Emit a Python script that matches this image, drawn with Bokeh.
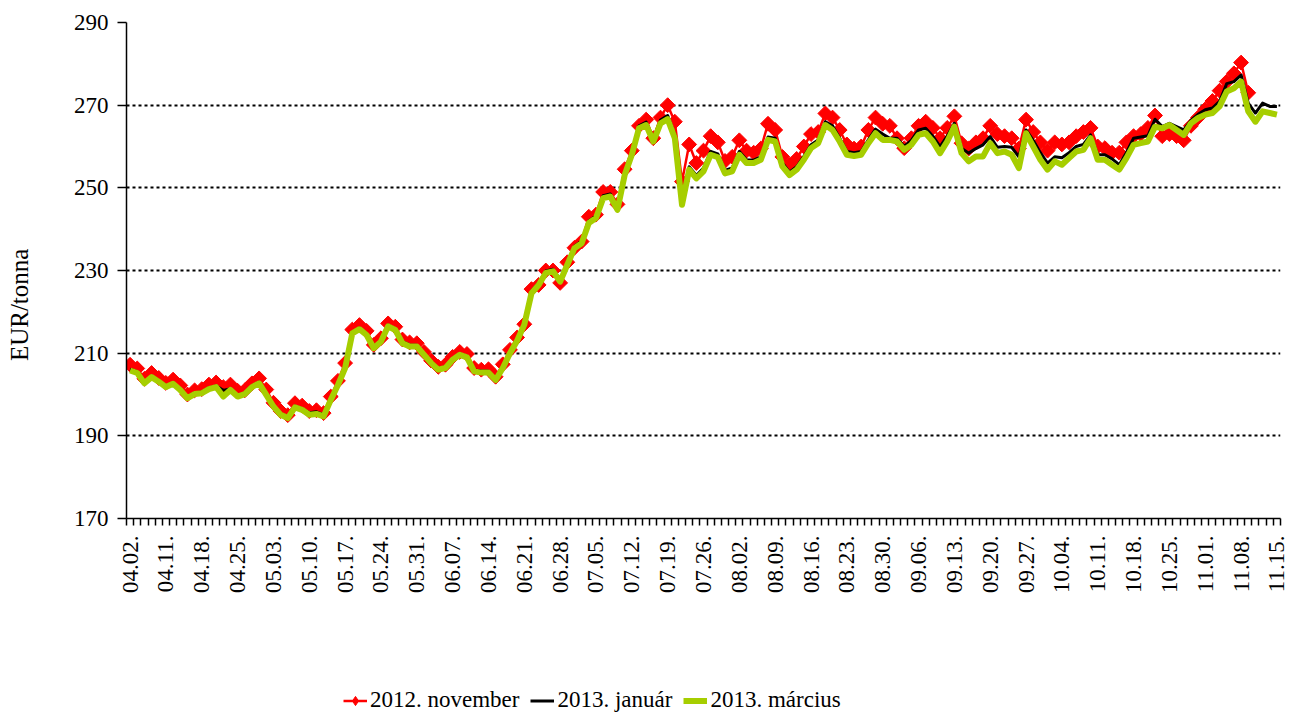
import math
from bokeh.plotting import figure
from bokeh.layouts import column
from bokeh.models import FixedTicker, Range1d, Legend, LegendItem
from bokeh.embed import file_html
from bokeh.resources import INLINE

tick_labels = ["04.02.", "04.11.", "04.18.", "04.25.", "05.03.", "05.10.", "05.17.", "05.24.",
               "05.31.", "06.07.", "06.14.", "06.21.", "06.28.", "07.05.", "07.12.", "07.19.",
               "07.26.", "08.02.", "08.09.", "08.16.", "08.23.", "08.30.", "09.06.", "09.13.",
               "09.20.", "09.27.", "10.04.", "10.11.", "10.18.", "10.25.", "11.01.", "11.08.",
               "11.15."]

series_names = ["2012. november", "2013. január", "2013. március"]

nov_2012 = [207.2, 206.3, 203.8, 205.2, 204.0, 202.8, 203.6, 202.2, 200.0, 201.0,
            201.3, 202.4, 202.9, 201.8, 202.4, 200.9, 201.0, 202.7, 203.9, 201.2,
            198.0, 196.0, 195.0, 197.9, 197.3, 196.0, 196.2, 195.5, 199.5, 203.3,
            207.6, 215.7, 216.8, 215.4, 212.0, 213.6, 217.2, 216.4, 213.3, 212.6,
            212.4, 210.3, 208.2, 206.7, 207.2, 209.1, 210.3, 209.8, 206.4, 206.0,
            206.1, 204.3, 207.3, 210.8, 213.8,
            217.0, 225.5, 226.5, 230.0, 230.0, 227.0, 232.0, 235.5, 237.0, 243.0,
            243.5, 249.0, 249.0, 246.0, 254.5, 259.0, 265.0, 266.5, 262.0, 267.0,
            270.0, 266.0, 251.5, 260.5, 256.0, 259.0, 262.5, 261.0, 256.5, 257.5,
            261.5, 259.0, 258.5, 259.5, 265.5, 264.0, 257.5, 255.5, 257.0, 260.0,
            263.0, 263.5, 268.0, 267.0, 264.0, 260.5, 259.5, 260.0, 264.0, 267.0,
            265.5, 265.0,
            262.0, 259.6, 262.0, 265.0, 266.0, 264.5, 262.0, 264.5, 267.3, 260.8,
            259.5, 261.0, 262.0, 265.0, 263.0, 262.5, 262.0, 259.5, 266.5, 263.5,
            261.0, 259.0, 261.0, 260.5, 261.0, 262.5, 263.5, 264.5, 260.0, 259.6,
            258.5, 258.5, 261.0, 262.5, 263.0, 264.5, 267.5, 262.5, 263.0, 262.5,
            261.5, 265.0, 267.0, 269.0, 271.0, 273.5, 275.7, 277.7, 280.3, 273.0,
            float("nan"), float("nan"), float("nan"), float("nan")]

jan_2013 = [206.1, 205.5, 203.0, 204.5, 203.4, 202.1, 202.9, 201.4, 199.4, 200.4,
            200.6, 201.6, 202.1, 201.0, 201.4, 199.8, 200.4, 202.1, 203.0, 200.2,
            197.4, 195.4, 194.6, 197.2, 196.6, 195.6, 195.8, 195.1, 199.0, 202.6,
            206.7, 215.1, 216.1, 214.7, 211.5, 213.1, 216.8, 215.9, 212.8, 212.0,
            211.9, 209.9, 207.9, 206.3, 206.7, 208.7, 209.9, 209.3, 205.9, 205.7,
            205.7, 203.8, 206.7, 210.3, 213.3,
            217.3, 225.0, 227.0, 229.9, 230.3, 227.8, 231.9, 235.9, 237.1, 242.0,
            243.2, 248.1, 248.5, 245.2, 253.6, 258.6, 265.0, 265.9, 261.8, 266.4,
            267.5, 262.8, 246.4, 255.1, 253.0, 254.8, 258.8, 258.2, 254.2, 254.8,
            258.8, 256.8, 256.7, 257.5, 262.3, 262.0, 256.0, 253.8, 255.1, 257.6,
            260.4, 261.6, 266.0, 265.0, 262.0, 258.8, 258.5, 258.8, 261.6, 264.2,
            263.0, 262.0,
            262.0, 260.0, 261.5, 264.0, 264.4, 262.5, 260.0, 262.5, 265.6, 259.6,
            258.4, 259.5, 260.4, 262.4, 259.8, 260.0, 259.8, 257.5, 264.0, 261.5,
            258.5, 256.0, 257.5, 257.3, 258.5, 260.0, 260.5, 262.8, 258.0, 258.0,
            257.0, 255.6, 258.5, 262.0, 262.3, 262.6, 266.6, 264.8, 265.6, 264.8,
            264.0, 266.3, 267.8, 268.9, 269.3, 270.9, 275.2, 275.7, 277.3, 270.5,
            268.1, 270.5, 269.7, 269.7]

mar_2013 = [205.8, 205.2, 202.7, 204.2, 203.1, 201.8, 202.6, 201.1, 199.1, 200.1,
            200.3, 201.3, 201.8, 199.5, 201.1, 199.5, 200.1, 201.8, 202.7, 199.9,
            197.1, 195.1, 194.3, 196.9, 196.3, 195.1, 195.3, 194.7, 198.7, 202.3,
            206.4, 214.8, 215.8, 214.4, 211.2, 212.8, 216.5, 215.6, 212.4, 211.6,
            211.6, 209.6, 207.6, 206.0, 206.4, 208.4, 209.6, 209.0, 205.6, 205.3,
            205.3, 203.5, 206.4, 210.0, 213.0,
            216.9, 224.5, 226.5, 229.4, 229.8, 227.3, 231.4, 235.4, 236.6, 241.5,
            242.7, 247.5, 247.9, 244.7, 253.1, 258.0, 264.4, 265.2, 261.2, 265.6,
            266.6, 262.0, 245.9, 254.4, 252.3, 254.0, 258.0, 257.4, 253.5, 254.0,
            258.0, 256.0, 256.0, 256.8, 261.6, 261.2, 255.2, 253.1, 254.4, 256.8,
            259.6, 260.8, 265.2, 264.0, 261.2, 258.0, 257.7, 258.0, 260.8, 263.2,
            261.6, 261.6,
            261.2, 259.2, 260.4, 262.8, 263.2, 261.2, 258.4, 261.2, 264.8, 258.4,
            256.4, 257.6, 257.6, 260.8, 258.4, 258.8, 258.0, 254.8, 263.2, 260.0,
            256.8, 254.4, 256.4, 255.6, 257.2, 258.8, 259.2, 262.0, 256.8, 256.8,
            255.6, 254.4, 257.2, 260.4, 260.8, 261.2, 264.8, 264.4, 265.2, 264.0,
            262.8, 265.6, 266.9, 267.7, 268.1, 269.7, 273.3, 274.1, 275.7, 268.5,
            266.0, 268.5, 268.1, 267.7]

days = list(range(len(mar_2013)))

FONT = "Liberation Serif"
FS = "23px"
RED = "#FF0000"
GREEN = "#A6CE00"

p = figure(frame_width=1154, frame_height=496,
           min_border_left=126, min_border_right=10, min_border_top=22, min_border_bottom=160,
           x_range=Range1d(-0.5, len(days) - 0.5), y_range=Range1d(170, 290),
           output_backend="svg", toolbar_location=None)
p.outline_line_color = None
p.background_fill_color = "white"

# grid
p.xgrid.grid_line_color = None
p.ygrid.ticker = FixedTicker(ticks=[190, 210, 230, 250, 270, 290])
p.ygrid.grid_line_color = "black"
p.ygrid.grid_line_dash = "3 3"
p.ygrid.grid_line_width = 2

# y axis
p.yaxis.ticker = FixedTicker(ticks=[170, 190, 210, 230, 250, 270, 290])
p.yaxis.axis_line_color = "black"
p.yaxis.axis_line_width = 1.5
p.yaxis.major_tick_line_color = "black"
p.yaxis.major_tick_line_width = 1.5
p.yaxis.major_tick_out = 9
p.yaxis.major_tick_in = 0
p.yaxis.minor_tick_line_color = None
p.yaxis.major_label_standoff = 9
p.yaxis.major_label_text_font = FONT
p.yaxis.major_label_text_font_size = FS
p.yaxis.major_label_text_color = "black"
# axis title; trailing no-break spaces shift the visible text down like in the original
p.yaxis.axis_label = "EUR/tonna" + "\u00a0" * 11
p.yaxis.axis_label_standoff = 38
p.yaxis.axis_label_text_font = FONT
p.yaxis.axis_label_text_font_size = "25px"
p.yaxis.axis_label_text_font_style = "normal"
p.yaxis.axis_label_text_color = "black"

# x axis
p.xaxis.ticker = FixedTicker(ticks=list(range(0, len(days), 5)),
                             minor_ticks=[i - 0.5 for i in range(len(days) + 1)])
p.xaxis.major_label_overrides = {i * 5: lab for i, lab in enumerate(tick_labels)}
p.xaxis.major_label_orientation = math.pi / 2
p.xaxis.axis_line_color = "black"
p.xaxis.axis_line_width = 1.5
p.xaxis.major_tick_line_color = None
p.xaxis.major_tick_out = 0
p.xaxis.major_tick_in = 0
p.xaxis.minor_tick_line_color = "black"
p.xaxis.minor_tick_line_width = 1.5
p.xaxis.minor_tick_out = 7
p.xaxis.minor_tick_in = 0
p.xaxis.major_label_standoff = 10
p.xaxis.major_label_text_font = FONT
p.xaxis.major_label_text_font_size = FS
p.xaxis.major_label_text_color = "black"

p.line(days, nov_2012, line_color=RED, line_width=2.5, line_join="round")
p.scatter(days, nov_2012, marker="square", angle=math.pi / 4, size=10.5,
          fill_color=RED, line_color=RED)
p.line(days, jan_2013, line_color="black", line_width=3, line_join="round")
p.line(days, mar_2013, line_color=GREEN, line_width=6, line_join="round")

# legend strip below the chart (a separate, axis-less figure so that nothing clips it)
lg = figure(width=1290, height=35, min_border=0, x_range=Range1d(0, 1290), y_range=Range1d(0, 35),
            output_backend="svg", toolbar_location=None)
lg.axis.visible = False
lg.grid.grid_line_color = None
lg.outline_line_color = None
far = [-1000.0]
l_red = lg.line(far, far, line_color=RED, line_width=2.5)
l_red_pts = lg.scatter(far, far, marker="diamond", size=15,
                       fill_color=RED, line_color=RED)
l_black = lg.line(far, far, line_color="black", line_width=3)
l_green = lg.line(far, far, line_color=GREEN, line_width=6)

legend = Legend(items=[
    LegendItem(label=series_names[0], renderers=[l_red, l_red_pts]),
    LegendItem(label=series_names[1], renderers=[l_black]),
    LegendItem(label=series_names[2], renderers=[l_green]),
], orientation="horizontal", location=(217, 0))
legend.label_text_font = FONT
legend.label_text_font_size = FS
legend.label_text_color = "black"
legend.glyph_width = 24
legend.glyph_height = 23
legend.label_height = 23
legend.label_standoff = 3
legend.spacing = 11
legend.padding = 0
legend.margin = 0
legend.border_line_color = None
legend.background_fill_alpha = 0
lg.add_layout(legend)

layout = column(p, lg, spacing=0)
open("out.html", "w").write(file_html(layout, INLINE))
